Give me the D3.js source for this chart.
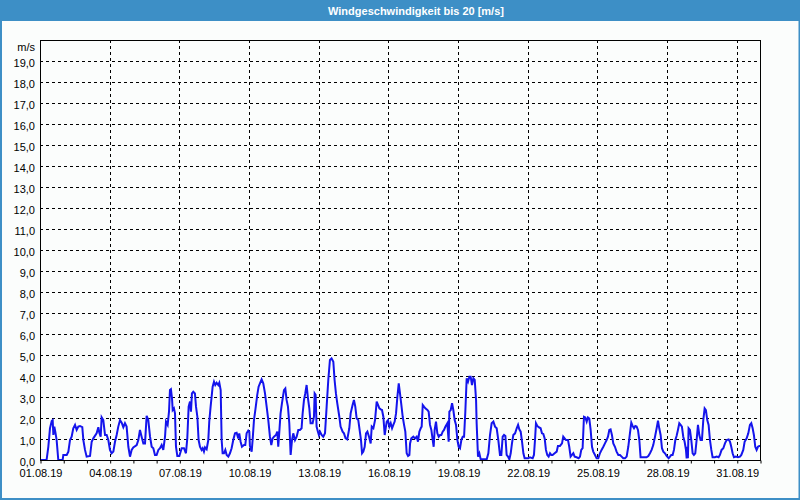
<!DOCTYPE html>
<html><head><meta charset="utf-8">
<script src="https://cdn.jsdelivr.net/npm/d3@7/dist/d3.min.js"></script>
<style>body{margin:0;background:#fbfdfc;overflow:hidden}svg{display:block}</style>
</head><body><script>
const chartTitle = "Windgeschwindigkeit bis 20 [m/s]";
const unitLabel = "m/s";
const startDate = new Date(2019, 7, 1);
const endDate = new Date(2019, 8, 1);
const yTickValues = [0,1,2,3,4,5,6,7,8,9,10,11,12,13,14,15,16,17,18,19];
const labelEveryDays = 3;
// [hours since 01.08.19 00:00, wind speed m/s]
const windReadings = [
[0,0],[6.2,0],[6.9,0.03],[8.6,0.63],[10.3,1.51],[12.1,1.86],[13.1,1.9],[13.8,1.19],[14.8,1.59],[15.8,1.35],[17.2,0.95],[18.9,0],[23.4,0],
[24.1,0.24],[27.6,0.24],[29.3,0.4],[31.0,0.95],[32.7,1.11],[34.4,1.51],[36.2,1.67],[37.9,1.43],[39.6,1.59],[41.3,1.62],[43.7,1.56],[44.8,0.95],[46.5,0.48],[48.2,0.16],
[51.7,0.19],[53.4,0.87],[55.1,1.03],[58.5,1.27],[60.3,1.56],[61.3,1.3],[62.7,1.11],[63.7,2.03],[65.4,1.9],[67.2,1.19],[68.9,1.19],[70.6,0.95],[72.3,0.48],[74.0,0.32],
[75.8,0.4],[77.5,0.87],[79.2,1.19],[80.9,1.59],[82.7,1.9],[84.4,1.78],[86.1,1.56],[87.8,1.75],[89.5,1.59],[91.3,0.63],[93.0,0.16],[94.7,0.48],[96.4,0.6],
[99.9,0.71],[101.6,0.95],[103.3,1.43],[105.0,1.11],[106.8,0.79],[108.5,0.79],[110.2,2.1],[111.9,1.9],[113.7,1.11],[115.4,0.63],[117.1,0.56],[118.8,0.24],[120.5,0.24],
[122.3,0.48],[124.0,0.56],[125.7,0.71],[127.4,0.48],[129.2,1.11],[130.2,1.83],[131.9,1.67],[133.3,2.3],[134.3,3.33],[135.3,3.37],[136.4,2.94],[137.1,2.38],[138.4,2.46],
[139.5,2.22],[140.5,0.63],[141.9,0.19],[144.0,0.19],[146.4,0.56],[148.8,0.56],[150.8,0.32],[152.2,1.03],[153.6,2.54],[155.0,2.78],[156.0,2.3],[157.0,3.17],[158.4,3.25],
[160.1,3.17],[161.2,2.54],[162.6,2.06],[163.9,0.95],
[165.3,0.63],[167.0,0.48],[168.1,0.56],[169.4,0.4],[170.5,0.6],[172.2,0.51],[173.9,0.95],[174.9,1.83],[176.3,2.54],[178.4,3.49],[179.8,3.73],[181.1,3.57],[182.5,3.68],
[184.2,3.57],[185.3,3.68],[186.7,3.33],[187.7,0.95],[188.7,0.32],[190.1,0.32],[191.5,0.48],[192.9,0.24],[194.6,0.16],[196.3,0.32],[198.0,0.56],[199.7,0.95],[201.5,1.27],
[203.2,1.3],[204.9,1.03],[205.9,1.27],[207.3,0.87],[208.7,0.63],[210.8,0.71],[212.1,0.71],[213.5,1.27],[215.2,1.4],[216.3,1.35],[216.9,0.67],[218.7,0.4],[219.7,0.95],
[221.1,1.9],[222.5,2.38],[224.5,3.1],[225.9,3.49],[227.3,3.65],[229.0,3.84],[230.7,3.65],[232.5,3.17],[234.2,2.54],[235.9,1.9],[237.6,1.11],[239.0,0.71],[240.4,1.03],
[241.8,1.11],[243.8,1.19],[245.2,1.35],[246.2,0.63],[247.3,1.35],[248.6,2.22],[250.0,2.7],[252.1,3.33],[253.5,3.41],[254.8,2.86],[256.2,2.54],[257.6,1.75],[259.0,0.24],
[260.4,0.95],[261.7,1.27],[263.5,0.95],[265.2,1.11],[266.9,1.43],[268.6,1.43],[270.3,1.51],[271.4,2.22],[272.8,2.86],[274.1,3.17],[275.5,3.57],[276.9,2.94],[278.3,2.46],
[279.6,1.75],[281.7,1.75],[283.1,2.06],[283.8,3.17],[284.8,3.1],[285.8,1.59],[287.2,1.35],[288.2,1.19],[289.3,1.35],[291.0,1.19],[292.7,1.11],[294.5,1.27],[296.2,2.54],
[297.9,3.81],[299.6,4.76],[301.3,4.84],[303.1,4.68],[304.4,3.81],[305.8,3.17],[307.2,2.7],[309.3,2.06],[310.6,1.59],[312.7,1.35],[314.1,1.27],[315.8,1.03],[317.5,0.98],
[319.6,1.51],[321.0,2.22],[323.0,2.62],[324.4,2.86],[325.8,2.54],[327.2,1.98],[328.9,1.9],
[331.7,0.95],[332.8,0.32],[334.1,0.4],[335.5,0.63],[336.9,1.27],[338.3,1.35],[340.0,1.11],[341.7,0.79],[342.8,1.59],[344.5,1.51],[346.2,1.9],[347.9,2.78],[349.3,2.62],
[350.7,2.46],[352.1,2.41],[353.4,2.38],[354.8,2.06],[356.2,1.19],[357.2,1.51],[358.3,1.83],[359.6,1.9],[361.0,1.59],[362.4,1.75],[363.8,1.51],[365.1,1.67],[366.5,1.83],
[367.9,2.22],[369.3,3.02],[370.7,3.65],[372.0,3.17],[373.4,2.62],[374.8,2.06],[376.2,1.67],[377.5,1.35],[378.9,0.32],[380.3,0.19],[381.7,0.24],[382.4,0.79],[383.7,1.03],
[385.8,1.11],[387.5,1.03],[389.2,1.11],[390.6,0.87],[392.0,1.35],[393.4,1.51],[394.4,1.59],[395.5,2.62],[396.8,2.54],[398.2,2.46],[400.3,2.38],[401.6,2.3],[403.0,1.67],
[404.4,1.43],[405.8,0.95],[406.8,0.63],[407.8,1.43],[409.2,1.83],[410.6,1.27],[412.0,1.11],[413.4,1.19],[414.7,1.19],[416.1,1.35],[417.5,1.43],[418.9,1.59],[420.9,1.75],
[422.3,0.87],[423.0,2.3],[424.4,2.38],[425.8,2.7],[427.1,2.38],[428.5,1.9],[429.9,1.67],[431.3,0.95],[432.6,0.63],[434.0,0.56],[435.4,0.95],[436.8,1.11],[438.2,1.11],
[439.5,2.3],[440.9,3.89],[442.3,3.73],[443.7,3.97],[445.0,3.97],[446.4,3.57],[447.8,3.89],[449.2,3.81],[450.6,2.86],[451.2,1.75],[452.6,0.16],[454.0,0.32],[455.4,0.03],
[458.1,0.03],[461.6,0.03],[463.3,0.32],[465.0,1.19],[466.7,1.75],[468.5,1.83],[470.2,1.59],[471.9,1.51],[473.6,0.95],[475.3,0.24],[476.7,0.24],[478.1,1.11],[479.5,1.19],
[480.9,1.14],[482.2,0.24],[483.6,0.16],[485.0,0.03],[486.4,0.32],[487.7,0.79],[489.1,1.19],[490.9,1.27],[492.6,1.51],[494.0,1.67],[495.3,1.46],[496.7,1.35],[498.1,0.87],
[499.5,0.32],[500.8,0.08],[502.9,0.08],[504.6,0.08],
[506.3,0.13],[509.1,0.08],[510.4,0.24],[511.5,0.95],[512.5,1.75],[513.9,1.62],[515.3,1.56],[517.3,1.51],[518.7,1.27],[520.1,1.24],[521.5,1.03],[522.8,0.48],[524.2,0.24],
[525.6,0.16],[527.0,0.32],[528.3,0.24],[529.7,0.24],[531.8,0.32],[533.9,0.4],[535.2,0.67],[537.3,0.67],[539.4,0.79],[540.7,1.11],[542.1,1.03],[543.5,0.95],[545.6,0.95],
[546.9,0.63],[548.3,0.16],[549.7,0.24],[551.1,0.32],[552.5,0.16],[554.5,0.13],[556.6,0.08],[558.0,0.16],[559.3,0.48],[560.7,0.56],[562.1,2.06],[563.5,2.03],[564.9,1.83],
[566.2,2.03],[567.6,1.98],[569.0,1.43],[570.4,0.63],[571.7,0.4],[573.5,0.24],[575.2,0.08],[576.9,0.08],[578.6,0.32],[580.3,0.48],[582.1,0.63],[583.8,0.79],[585.5,0.95],
[586.9,1.11],[588.3,1.43],[589.6,1.46],[591.0,1.19],[592.4,0.79],[594.1,0.63],[595.8,0.4],[597.6,0.24],[599.3,0.24],[601.0,0.16],[602.7,0.08],[604.5,0.08],[606.2,0.16],
[607.9,0.63],[609.6,1.27],[611.0,1.78],[612.4,1.62],[613.8,1.51],[615.1,1.62],[616.5,1.59],[617.9,1.43],[619.3,0.95],[620.6,0.13],[623.4,0.13],[626.8,0.13],[628.6,0.19],
[630.3,0.32],[632.0,0.48],[633.7,0.71],[635.5,1.11],[637.2,1.51],[638.6,1.87],[639.9,1.51],[641.3,1.19],[642.7,0.56],[644.1,0.4],[645.8,0.32],[647.5,0.19],[649.6,0.08],
[651.0,0.16],[652.3,0.24],[653.7,0.24],[655.1,0.48],[656.5,0.95],[657.8,1.14],[659.2,1.43],[660.6,1.75],[662.0,1.67],[663.3,1.59],[664.7,1.11],[666.1,0.87],[667.5,0.48],
[668.2,0.08],[668.9,0.63],[669.5,0.08],[670.2,1.51],[671.6,1.43],[673.0,0.95],[674.4,0.32],[675.7,0.24],[677.1,0.32],[678.5,0.95],[679.9,1.67],[681.3,1.19],[682.6,0.95],
[684.0,0.95],[685.4,1.9],[686.8,2.46],[688.1,2.38],[689.5,1.9],[690.9,1.67],[692.3,0.95],[693.7,0.48],[695.0,0.13],[697.4,0.13],[699.2,0.16],[701.2,0.13],[702.6,0.24],
[704.3,0.48],[706.1,0.56],[707.8,0.79],[709.5,0.95],[711.6,0.98],[713.0,0.87],[714.3,0.63],[715.7,0.32],[717.1,0.13],[719.1,0.16],[721.2,0.13],[723.3,0.16],[724.7,0.24],
[726.7,0.48],[728.1,0.87],[730.2,1.03],[731.9,1.27],[733.6,1.67],[735.0,1.75],[736.4,1.51],[737.7,1.19],[739.1,0.63],[740.5,0.48],[741.9,0.63],[743.3,0.67],[744,0.67]
];

const W = 800, H = 500;
const M = {left: 40, right: 760, top: 40, bottom: 460};
const blue = "#3d8fc6";
const font = "'Liberation Sans', Arial, sans-serif";

const svg = d3.select("body").append("svg").attr("width", W).attr("height", H);
svg.append("rect").attr("width", W).attr("height", H).attr("fill", "#fbfdfc");

// title bar
svg.append("rect").attr("x", 0).attr("y", 0).attr("width", W).attr("height", 21).attr("fill", blue);
svg.append("text").attr("x", 416).attr("y", 10.5).attr("text-anchor", "middle")
  .attr("dominant-baseline", "central").attr("fill", "#ffffff")
  .attr("font-family", font).attr("font-size", 11).attr("font-weight", "bold").text(chartTitle);
// outer border
svg.append("rect").attr("x", 0).attr("y", 21).attr("width", 2).attr("height", H - 21).attr("fill", blue);
svg.append("rect").attr("x", W - 1.5).attr("y", 21).attr("width", 1.5).attr("height", H - 21).attr("fill", blue);
svg.append("rect").attr("x", 0).attr("y", H - 2).attr("width", W).attr("height", 2).attr("fill", blue);

const x = d3.scaleTime().domain([startDate, endDate]).range([M.left, M.right]);
const y = d3.scaleLinear().domain([0, 20]).range([M.bottom, M.top]);

const fmtNum = d3.formatLocale({decimal: ",", thousands: ".", grouping: [3], currency: ["", "€"]}).format(".1f");
const fmtDate = d3.timeFormat("%d.%m.%y");

// horizontal grid
svg.append("g").selectAll("line").data(yTickValues.filter(v => v > 0)).join("line")
  .attr("x1", M.left).attr("x2", M.right)
  .attr("y1", d => Math.round(y(d)) + 0.5).attr("y2", d => Math.round(y(d)) + 0.5)
  .attr("stroke", "#000").attr("stroke-width", 1).attr("stroke-dasharray", "3,3");

const allDays = d3.timeDay.range(startDate, d3.timeDay.offset(endDate, 1));
const labelDays = allDays.filter(d => d < endDate && ((d3.timeDay.count(startDate, d)) % labelEveryDays === 0));

// vertical grid
svg.append("g").selectAll("line").data(labelDays.filter(d => d > startDate)).join("line")
  .attr("x1", d => Math.round(x(d)) + 0.5).attr("x2", d => Math.round(x(d)) + 0.5)
  .attr("y1", M.top).attr("y2", M.bottom)
  .attr("stroke", "#000").attr("stroke-width", 1).attr("stroke-dasharray", "3,3");

// x axis
const xAxis = d3.axisBottom(x).tickValues(allDays).tickSize(3).tickPadding(6)
  .tickFormat(d => labelDays.some(l => +l === +d) ? fmtDate(d) : "");
const gx = svg.append("g").attr("transform", `translate(0.5,${M.bottom + 0.5})`).call(xAxis);
gx.select(".domain").remove();
gx.selectAll("line").attr("stroke", "#000");
gx.selectAll("text").attr("font-family", font).attr("font-size", 11).attr("fill", "#000").attr("transform", "translate(0,0)");

// y labels
svg.append("g").selectAll("text").data(yTickValues).join("text")
  .attr("x", 35).attr("y", d => y(d) + 1.5).attr("text-anchor", "end")
  .attr("dominant-baseline", "central").attr("font-family", font).attr("font-size", 11)
  .attr("fill", "#000").text(d => fmtNum(d));
svg.append("text").attr("x", 35).attr("y", 47).attr("text-anchor", "end")
  .attr("dominant-baseline", "central").attr("font-family", font).attr("font-size", 11)
  .attr("fill", "#000").text(unitLabel);

// clip
svg.append("clipPath").attr("id", "plotclip").append("rect")
  .attr("x", M.left).attr("y", M.top).attr("width", M.right - M.left).attr("height", M.bottom - M.top + 1);

const toDate = h => new Date(startDate.getTime() + h * 3600000);
const line = d3.line().x(d => x(toDate(d[0]))).y(d => y(d[1]));
svg.append("path").datum(windReadings).attr("clip-path", "url(#plotclip)")
  .attr("d", line).attr("fill", "none").attr("stroke", "#1414ec").attr("stroke-width", 2)
  .attr("stroke-linejoin", "miter");

// frame
svg.append("rect").attr("x", M.left + 0.5).attr("y", M.top + 0.5)
  .attr("width", M.right - M.left).attr("height", M.bottom - M.top)
  .attr("fill", "none").attr("stroke", "#000").attr("stroke-width", 1);
</script></body></html>
